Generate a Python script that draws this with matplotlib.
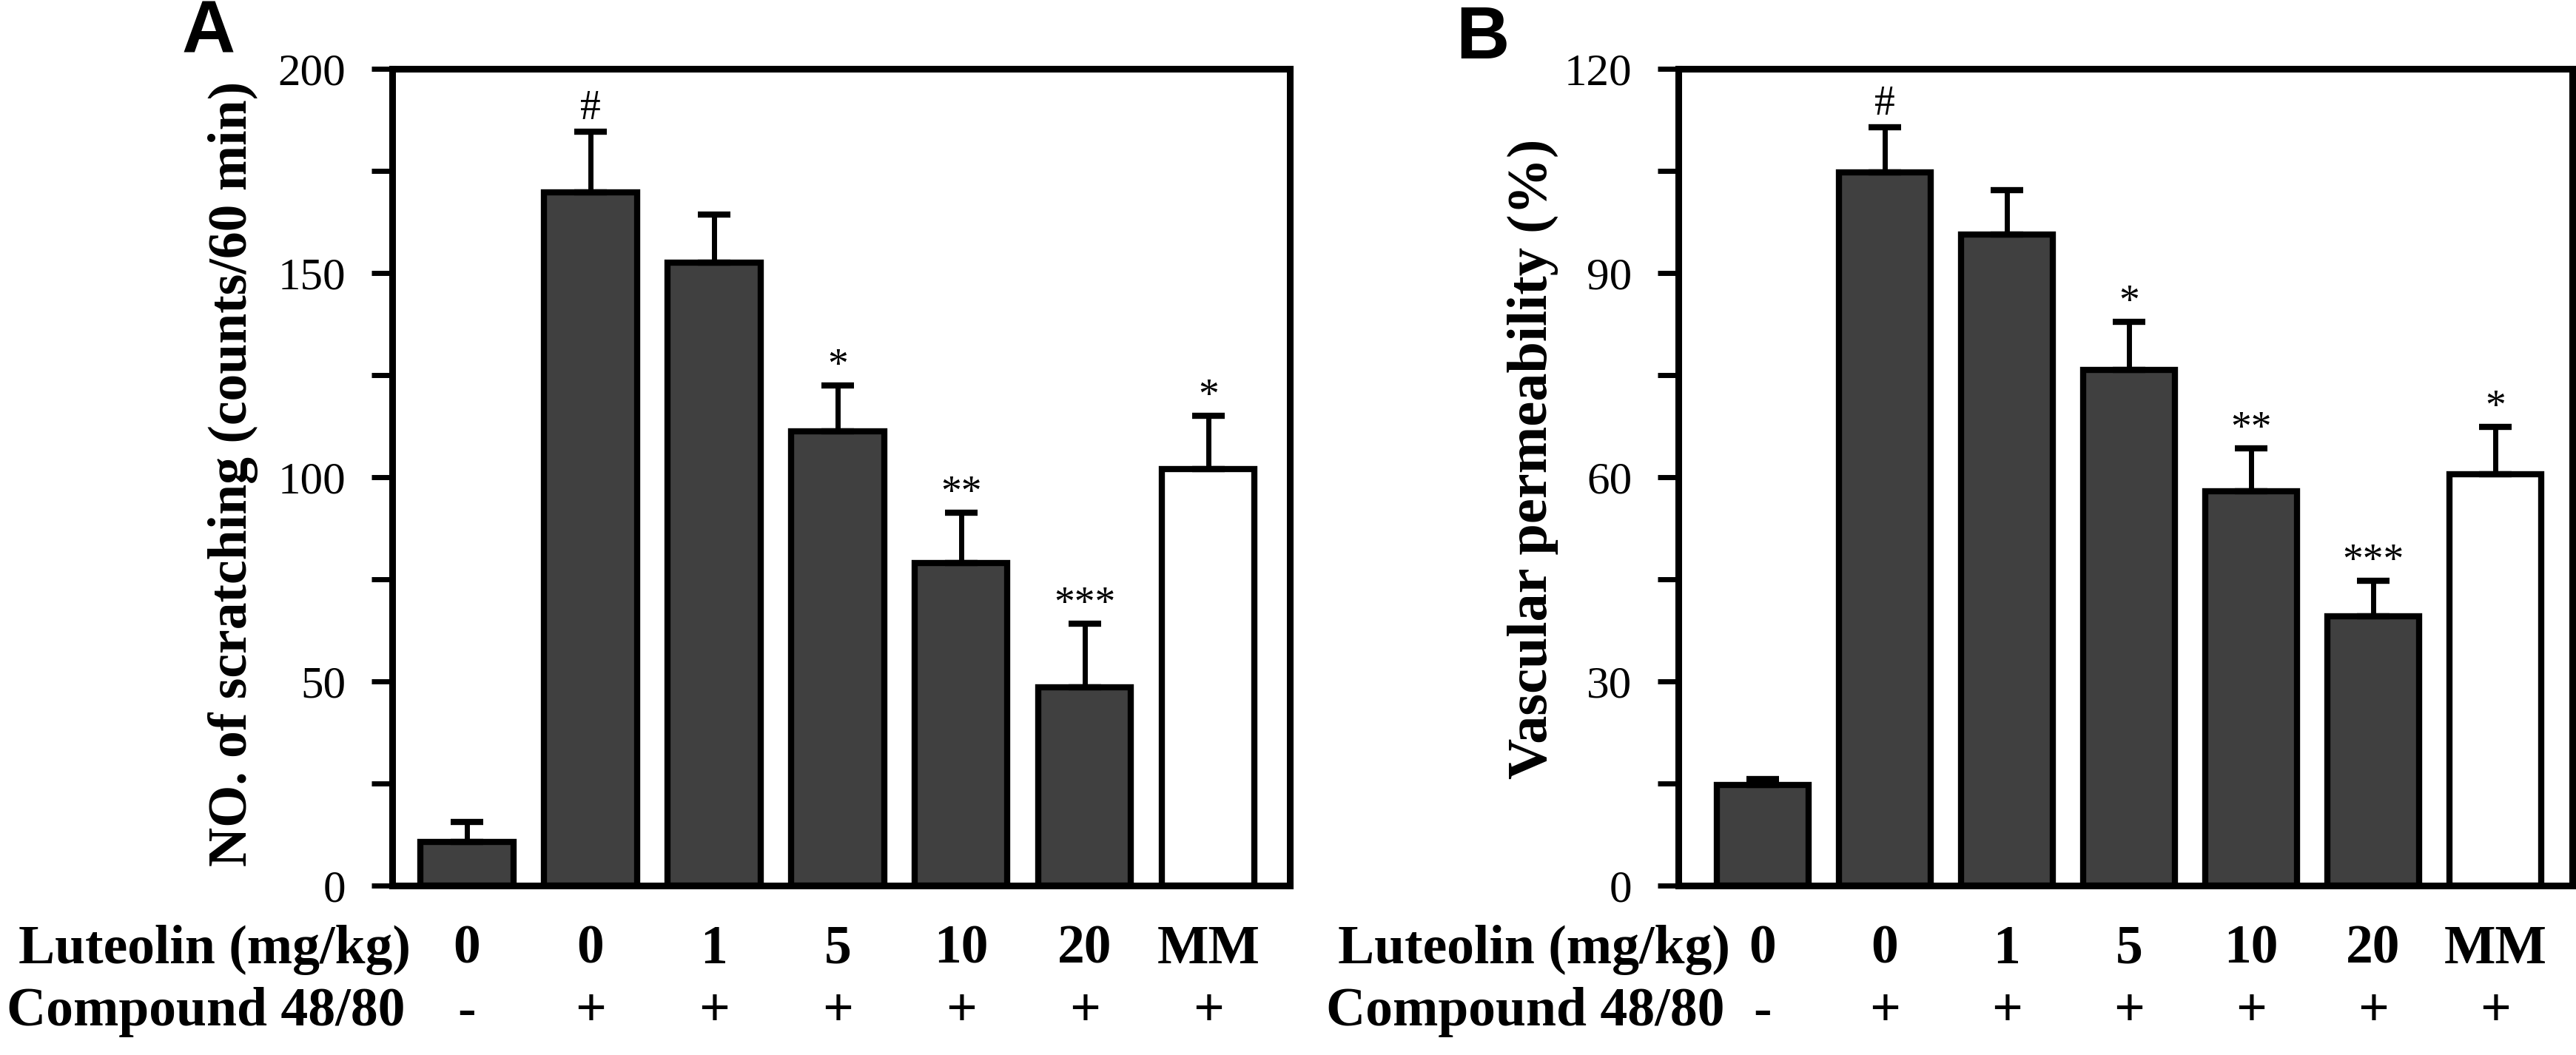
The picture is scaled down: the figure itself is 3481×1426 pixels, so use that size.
import matplotlib
matplotlib.use("Agg")
import matplotlib.pyplot as plt
from matplotlib.transforms import blended_transform_factory
from matplotlib.ticker import MultipleLocator
import numpy as np

# ---------------- data ----------------
luteolin_labels = ["0", "0", "1", "5", "10", "20", "MM"]
compound_labels = ["-", "+", "+", "+", "+", "+", "+"]

scratch_mean = [10.7, 169.7, 152.5, 111.2, 79.0, 48.6, 102.0]
scratch_err = [4.9, 14.9, 11.8, 11.3, 12.3, 15.5, 13.0]

perm_mean = [14.8, 104.8, 95.7, 75.8, 57.9, 39.6, 60.4]
perm_err = [0.9, 6.6, 6.5, 7.0, 6.3, 5.2, 7.0]

signif = ["", "#", "", "*", "**", "***", "*"]
bar_colors = ["#404040", "#404040", "#404040", "#404040", "#404040", "#404040", "#ffffff"]

# ---------------- style ----------------
SERIF = ["Liberation Serif", "DejaVu Serif"]
SANS = ["Liberation Sans", "DejaVu Sans"]
plt.rcParams["font.family"] = SERIF

fig = plt.figure(figsize=(34.81, 14.26), dpi=100)
fig.patch.set_facecolor("white")

axA = fig.add_axes([0.15226, 0.16059, 0.34846, 0.7742])
axB = fig.add_axes([0.65154, 0.16059, 0.34703, 0.7742])


def draw_panel(ax, means, errs, ymax, major, xlim):
    x = np.arange(len(means))
    ax.bar(x, means, width=0.75, color=bar_colors, edgecolor="black",
           linewidth=6, zorder=2)
    ax.errorbar(x, means, yerr=[np.zeros(len(errs)), errs], fmt="none",
                ecolor="black", elinewidth=5, capsize=16, capthick=6, zorder=3)
    ax.set_xlim(*xlim)
    ax.set_ylim(0, ymax)
    ax.yaxis.set_major_locator(MultipleLocator(major))
    ax.yaxis.set_minor_locator(MultipleLocator(major / 2))
    ax.tick_params(axis="y", which="both", direction="out", length=20,
                   width=5, pad=25, labelsize=44, right=False)
    ax.tick_params(axis="x", which="both", bottom=False, labelbottom=False)
    for s in ax.spines.values():
        s.set_linewidth(6.5)
        s.set_color("black")
    for i, (m, e, s) in enumerate(zip(means, errs, signif)):
        if not s:
            continue
        off = 12 if s == "#" else 8
        ax.annotate(s, xy=(i, m + e), xytext=(0, off), textcoords="offset points",
                    ha="center", va="baseline", fontsize=40, zorder=4)
    tr = blended_transform_factory(ax.transData, fig.transFigure)
    for i, (l1, l2) in enumerate(zip(luteolin_labels, compound_labels)):
        ax.text(i, 0.087, l1, transform=tr, ha="center", va="baseline",
                fontsize=53, fontweight="bold")
        ax.text(i, 0.028, l2, transform=tr, ha="center", va="baseline",
                fontsize=53, fontweight="bold")


draw_panel(axA, scratch_mean, scratch_err, 200, 50, (-0.605, 6.66))
draw_panel(axB, perm_mean, perm_err, 120, 30, (-0.69, 6.63))

# y-axis labels
fig.text(0.0905, 0.551, "NO. of scratching (counts/60 min)", rotation=90,
         ha="center", va="center", fontsize=53, fontweight="bold")
fig.text(0.5950, 0.565, "Vascular permeability (%)", rotation=90,
         ha="center", va="center", fontsize=55, fontweight="bold")

# row labels
for xr in (0.1594, 0.6716):
    fig.text(xr, 0.087, "Luteolin (mg/kg)", ha="right", va="baseline",
             fontsize=53, fontweight="bold")
    fig.text(xr - 0.002, 0.028, "Compound 48/80", ha="right", va="baseline",
             fontsize=53, fontweight="bold")

# panel letters
fig.text(0.0808, 0.968, "A", ha="center", va="center", fontsize=72,
         fontweight="bold", family=SANS)
fig.text(0.5755, 0.963, "B", ha="center", va="center", fontsize=72,
         fontweight="bold", family=SANS)

fig.savefig("out.png", dpi=100, facecolor="white")
